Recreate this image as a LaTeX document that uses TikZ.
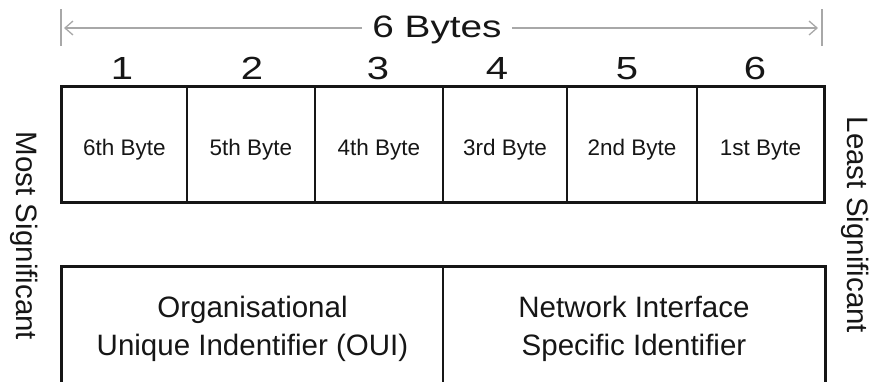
\documentclass[tikz,border=0pt]{standalone}
\usepackage{fontspec}
\setmainfont{Liberation Sans}
\newfontfamily\widesans[FakeStretch=1.25]{Liberation Sans}
\usetikzlibrary{arrows.meta}

\definecolor{ink}{HTML}{161616}
\definecolor{dimgray}{HTML}{A8A8A8}

\tikzset{
  cell/.style={draw=ink, line width=1.7pt, minimum width=#1, minimum height=115pt,
    inner sep=0pt, text height=21pt, text depth=0pt,
    font=\fontsize{22.5}{27}\selectfont, text=ink},
  frame/.style={draw=ink, line width=2.8pt},
  idbox/.style={draw=ink, line width=1.7pt, minimum width=#1, minimum height=160pt, inner sep=0pt},
  idtext/.style={align=center, font=\fontsize{29.5}{38}\selectfont, text=ink, inner sep=0pt},
  digit/.style={anchor=base, font=\widesans\fontsize{32}{36}\selectfont, text=ink, inner sep=0pt},
  title/.style={anchor=base, font=\widesans\fontsize{31}{36}\selectfont, text=ink, inner xsep=10pt, inner ysep=0pt},
  side/.style={rotate=-90, font=\fontsize{29.5}{34}\selectfont, text=ink, inner sep=0pt},
  dim/.style={draw=dimgray, line width=1.4pt},
  dimarrow/.style={dim, -{Straight Barb[length=8pt, width=14pt, line width=1.3pt]}},
}

\begin{document}
\begin{tikzpicture}[x=1pt, y=-1pt]
  \useasboundingbox (0,0) rectangle (875,381);
  \clip (0,0) rectangle (875,381);

  % overall width dimension
  \node[title] (bytes) at (437,37) {6 Bytes};
  \coordinate (dl) at (64,28);
  \coordinate (dr) at (818,28);
  \coordinate (tickl) at (61,28);
  \coordinate (tickr) at (822,28);
  \draw[dim] ([yshift=-18pt]tickl) -- ([yshift=19pt]tickl);
  \draw[dim] ([yshift=-18pt]tickr) -- ([yshift=19pt]tickr);
  \draw[dimarrow] (bytes.west |- dl) -- (dl);
  \draw[dimarrow] (bytes.east |- dr) -- (dr);

  % byte position numbers
  \node[digit] (n1) at (122,79) {1};
  \node[digit] (n2) at (252,79) {2};
  \node[digit] (n3) at (378,79) {3};
  \node[digit] (n4) at (497,79) {4};
  \node[digit] (n5) at (627,79) {5};
  \node[digit] (n6) at (755,79) {6};

  % the six byte cells
  \node[cell=125pt] (c1) at (124.5,144.5) {6th Byte};
  \node[cell=128pt] (c2) at (251,144.5) {5th Byte};
  \node[cell=128pt] (c3) at (379,144.5) {4th Byte};
  \node[cell=124pt] (c4) at (505,144.5) {3rd Byte};
  \node[cell=130pt] (c5) at (632,144.5) {2nd Byte};
  \node[cell=127pt] (c6) at (760.5,144.5) {1st Byte};
  \draw[frame] (c1.north west) rectangle (c6.south east);

  % identifier blocks
  \node[idbox=381pt] (oui) at (252.5,347) {};
  \node[idbox=382pt] (nsi) at (634,347) {};
  \draw[frame] (oui.south west) |- (nsi.north east) -- (nsi.south east);
  \node[idtext] (ouit) at (252.5,329) {Organisational\\Unique Indentifier (OUI)};
  \node[idtext] (nsit) at (634,329) {Network Interface\\Specific Identifier};

  % significance labels
  \node[side] (msb) at (24,236) {Most Significant};
  \node[side] (lsb) at (855,225) {Least Significant};
\end{tikzpicture}
\end{document}
